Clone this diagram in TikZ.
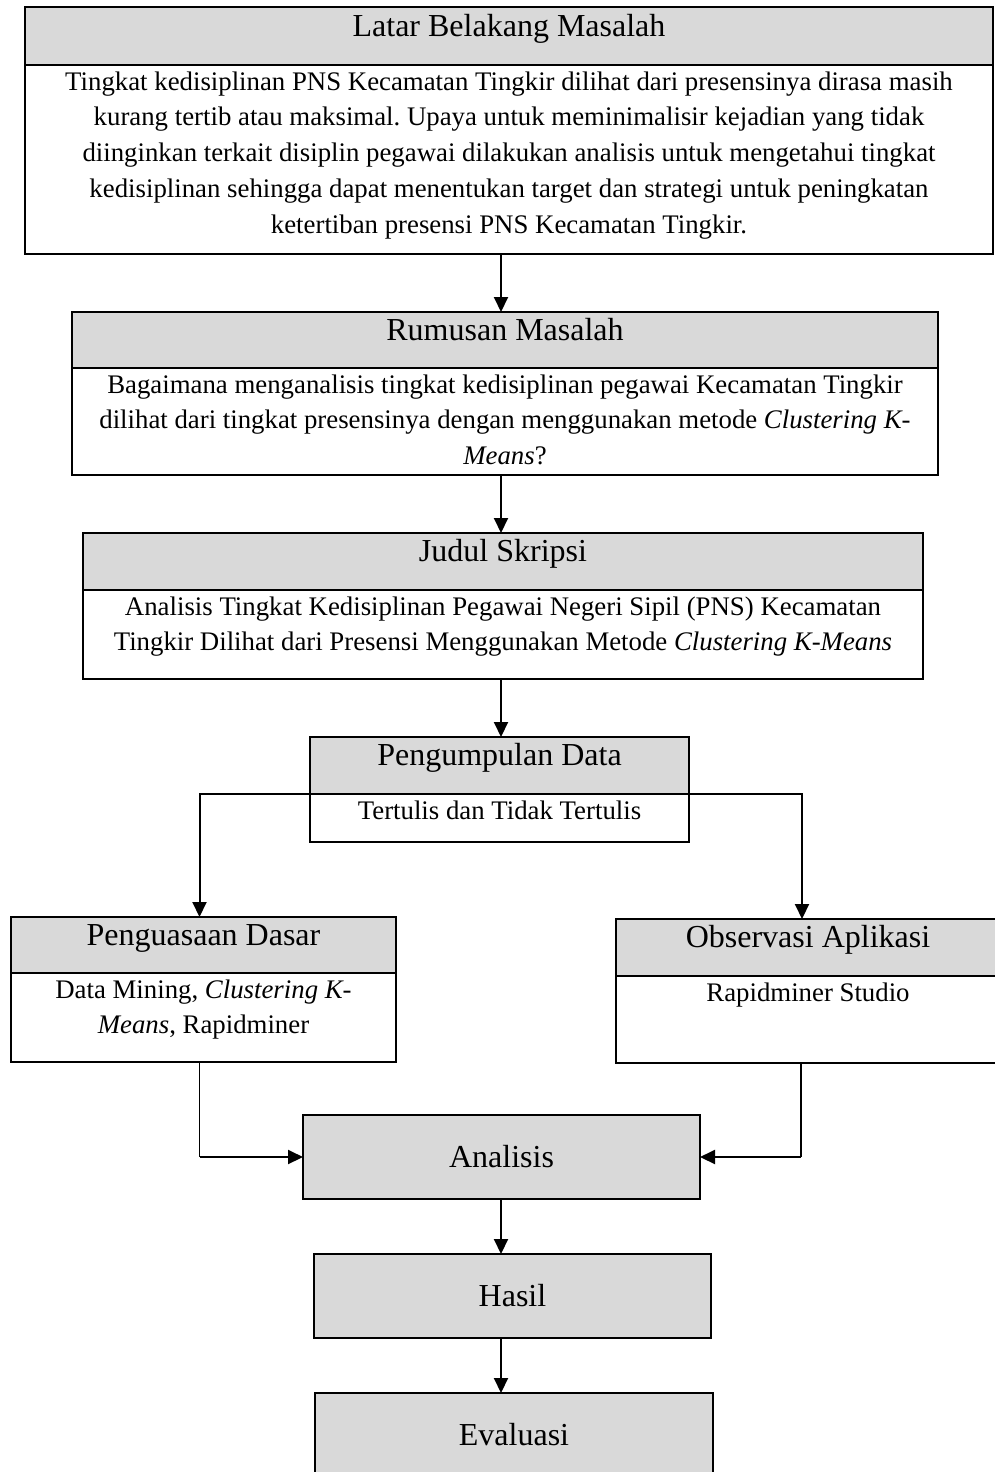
\documentclass[tikz,border=0pt]{standalone}
\usepackage{fontspec}
\setmainfont{Liberation Serif}
\usetikzlibrary{arrows.meta}

\definecolor{abu}{HTML}{D9D9D9}
\newcommand{\isi}[3]{\parbox[c][#2][t]{#1}{\centering\frenchspacing\strut#3\par}}

\begin{document}
\begin{tikzpicture}[
    x = 0.5pt, y = -0.5pt,
    every node/.style = {outer sep = 0pt, inner sep = 0pt, line width = 0.75pt},
    head/.style = {draw, fill = abu, anchor = north west,
        font = \fontsize{16}{19}\selectfont, text height = 6pt, text depth = 6pt},
    body/.style = {draw, fill = white, anchor = north west,
        font = \fontsize{13.4}{17.9}\selectfont},
    single/.style = {draw, fill = abu, anchor = north west,
        font = \fontsize{16}{19}\selectfont, minimum height = 42pt},
    arrow/.style = {line width = 1pt, -{Triangle[length = 7.5pt, width = 7pt]}},
    thinline/.style = {line width = 0.6pt}]

\useasboundingbox (0,0) rectangle (995,1472);
\clip (0,0) rectangle (995,1472);
\coordinate (axis) at (501,0);

\node[head, minimum width = 484pt, minimum height = 29pt] (lbm) at (25,7) {Latar Belakang Masalah};
\node[body] (lbm-b) at (lbm.south west) {\isi{484pt}{94.5pt}{Tingkat kedisiplinan PNS Kecamatan Tingkir dilihat dari presensinya dirasa masih\\
    kurang tertib atau maksimal. Upaya untuk meminimalisir kejadian yang tidak\\
    diinginkan terkait disiplin pegawai dilakukan analisis untuk mengetahui tingkat\\
    kedisiplinan sehingga dapat menentukan target dan strategi untuk peningkatan\\
    ketertiban presensi PNS Kecamatan Tingkir.}};

\node[head, minimum width = 433pt, minimum height = 28pt] (rm) at (72,312) {Rumusan Masalah};
\node[body] (rm-b) at (rm.south west) {\isi{433pt}{53.5pt}{Bagaimana menganalisis tingkat kedisiplinan pegawai Kecamatan Tingkir\\
    dilihat dari tingkat presensinya dengan menggunakan metode \textit{Clustering K-}\\
    \textit{Means}?}};

\node[head, minimum width = 420pt, minimum height = 28.5pt] (js) at (83,533) {Judul Skripsi};
\node[body] (js-b) at (js.south west) {\isi{420pt}{44.5pt}{Analisis Tingkat Kedisiplinan Pegawai Negeri Sipil (PNS) Kecamatan\\
    Tingkir Dilihat dari Presensi Menggunakan Metode \textit{Clustering K-Means}}};

\node[head, minimum width = 189.5pt, minimum height = 28.5pt] (pd) at (310,737) {Pengumpulan Data};
\node[body] (pd-b) at (pd.south west) {\isi{189.5pt}{24pt}{Tertulis dan Tidak Tertulis}};

\node[head, minimum width = 192.5pt, minimum height = 28pt] (pdd) at (11,917) {Penguasaan Dasar};
\node[body] (pdd-b) at (pdd.south west) {\isi{192.5pt}{44.5pt}{Data Mining, \textit{Clustering K-}\\
    \textit{Means}, Rapidminer}};

\node[head, minimum width = 192pt, minimum height = 28.5pt] (oa) at (616,919) {Observasi Aplikasi};
\node[body] (oa-b) at (oa.south west) {\isi{192pt}{43.5pt}{Rapidminer Studio}};

\node[single, minimum width = 198.5pt] (an) at (303,1115) {Analisis};
\node[single, minimum width = 198.5pt] (hs) at (314,1254) {Hasil};
\node[single, minimum width = 199pt] (ev) at (315,1393) {Evaluasi};

% alur utama
\draw[arrow] (lbm-b.south -| axis) -- (rm.north -| axis);
\draw[arrow] (rm-b.south -| axis) -- (js.north -| axis);
\draw[arrow] (js-b.south -| axis) -- (pd.north -| axis);
\draw[arrow] (pd.south west) -| ([xshift = -2pt]pdd.north);
\draw[arrow] (pd.south east) -| ([xshift = -3pt]oa.north);
\draw[thinline] ([xshift = -2pt]pdd-b.south) -- ([xshift = -2pt]pdd-b.south |- an.west);
\draw[arrow] ([xshift = -2pt]pdd-b.south |- an.west) -- (an.west);
\draw[thinline] ([xshift = -3.5pt]oa-b.south) -- ([xshift = -3.5pt]oa-b.south |- an.east);
\draw[arrow] ([xshift = -3.5pt]oa-b.south |- an.east) -- (an.east);
\draw[arrow] (an.south -| axis) -- (hs.north -| axis);
\draw[arrow] (hs.south -| axis) -- (ev.north -| axis);
\end{tikzpicture}
\end{document}
